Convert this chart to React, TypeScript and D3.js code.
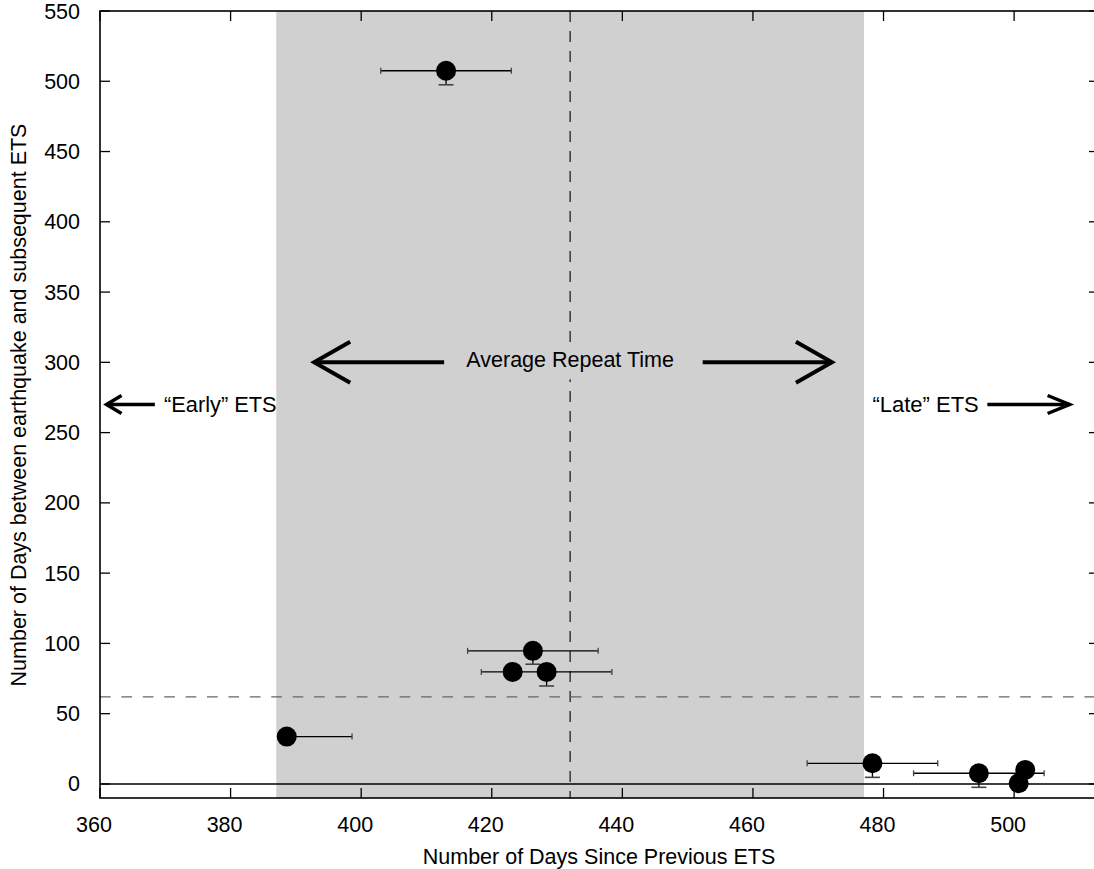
import React from "react";
import * as d3 from "d3";

// days since previous ETS (x) and days between earthquake and next ETS (y)
const daysSince = [413, 426.3, 423.2, 428.4, 388.6, 478.3, 494.6, 501.7, 500.7];
const daysBetween = [507.5, 94.7, 79.7, 79.7, 33.7, 14.7, 7.6, 10, 0.5];
// error bars (0 = not drawn)
const xErrLow = [10, 10, 0, 10, 0, 10, 10, 0, 0];
const xErrHigh = [10, 10, 0, 10, 10, 10, 10, 0, 0];
const yErrLow = [10, 9.5, 0, 10, 0, 10, 10, 0, 0];

const xTicks = [360, 380, 400, 420, 440, 460, 480, 500];
const yTicks = [0, 50, 100, 150, 200, 250, 300, 350, 400, 450, 500, 550];

const repeatLow = 387;
const repeatHigh = 477;
const repeatMean = 432;
const meanDelay = 62;

const W = 1094;
const H = 869;
const left = 100, right = 1099, top = 11, bottom = 798;
const FONT = "'Liberation Sans', Arial, Helvetica, sans-serif";

export default function App() {
  const x = d3.scaleLinear().domain([360, 513]).range([left, right]);
  const y = d3.scaleLinear().domain([-10, 550]).range([bottom, top]);

  const arrow = (x1: number, x2: number, yy: number, hx: number, hy: number, sw: number, key: string) => {
    // x2 is the tip
    const dir = x2 > x1 ? -1 : 1;
    const tx = x(x2), ty = y(yy);
    return (
      <g key={key} stroke="#000" strokeWidth={sw} fill="none" strokeLinecap="butt">
        <line x1={x(x1)} y1={ty} x2={tx} y2={ty} />
        <polyline points={`${tx + dir * hx},${ty - hy} ${tx},${ty} ${tx + dir * hx},${ty + hy}`} />
      </g>
    );
  };

  return (
    <svg width={W} height={H} style={{ position: "absolute", left: 0, top: 0, background: "#fff" }} fontFamily={FONT}>
      {/* one-sigma band of repeat time */}
      <rect x={x(repeatLow)} y={top} width={x(repeatHigh) - x(repeatLow)} height={bottom - top} fill="#d0d0d0" />

      {/* zero line */}
      <line x1={left} x2={right} y1={y(0)} y2={y(0)} stroke="#000" strokeWidth={1.6} />

      {/* mean repeat time */}
      <line x1={x(repeatMean)} x2={x(repeatMean)} y1={top} y2={bottom} stroke="#000" strokeWidth={1.1} strokeDasharray="11,9" />
      {/* mean delay */}
      <line x1={left} x2={right} y1={y(meanDelay)} y2={y(meanDelay)} stroke="#666" strokeWidth={1.3} strokeDasharray="10.7,10.7" />

      {/* error bars */}
      {daysSince.map((d, i) => (
        <g key={`err-${i}`} stroke="#000" strokeWidth={1.3}>
          {(xErrLow[i] > 0 || xErrHigh[i] > 0) && (
            <>
              <line x1={x(d - xErrLow[i])} x2={x(d + xErrHigh[i])} y1={y(daysBetween[i])} y2={y(daysBetween[i])} />
              {xErrLow[i] > 0 && <line x1={x(d - xErrLow[i])} x2={x(d - xErrLow[i])} y1={y(daysBetween[i]) - 3} y2={y(daysBetween[i]) + 3} stroke="#444" />}
              {xErrHigh[i] > 0 && <line x1={x(d + xErrHigh[i])} x2={x(d + xErrHigh[i])} y1={y(daysBetween[i]) - 3} y2={y(daysBetween[i]) + 3} stroke="#444" />}
            </>
          )}
          {yErrLow[i] > 0 && (
            <>
              <line x1={x(d)} x2={x(d)} y1={y(daysBetween[i])} y2={y(daysBetween[i] - yErrLow[i])} />
              <line x1={x(d) - 7.5} x2={x(d) + 7.5} y1={y(daysBetween[i] - yErrLow[i])} y2={y(daysBetween[i] - yErrLow[i])} stroke="#444" strokeWidth={1.6} />
            </>
          )}
        </g>
      ))}

      {/* points */}
      {daysSince.map((d, i) => (
        <circle key={`pt-${i}`} cx={x(d)} cy={y(daysBetween[i])} r={10} fill="#000" />
      ))}

      {/* annotations */}
      <rect x={x(414)} y={y(300) - 16} width={x(450.5) - x(414)} height={33} fill="#d0d0d0" />
      <text x={x(repeatMean)} y={y(300) + 5} textAnchor="middle" fontSize={21.5}>Average Repeat Time</text>
      {arrow(412.7, 392.8, 300, 36, 20.5, 4, "a1")}
      {arrow(452.3, 472.1, 300, 36, 20.5, 4, "a2")}
      {arrow(368.4, 361, 270, 15, 9, 3.5, "a3")}
      <text x={x(369.8)} y={y(270) + 7} fontSize={21.8}>“Early” ETS</text>
      <text x={x(478.3)} y={y(270) + 7} fontSize={22}>“Late” ETS</text>
      {arrow(495.9, 508.5, 270, 22, 9, 3.5, "a4")}

      {/* frame and inward ticks */}
      <rect x={left} y={top} width={right - left} height={bottom - top} fill="none" stroke="#000" strokeWidth={1.6} />
      {xTicks.map((t) => (
        <g key={`xt-${t}`}>
          <line x1={x(t)} x2={x(t)} y1={bottom} y2={bottom - 10} stroke="#000" strokeWidth={1.3} />
          <line x1={x(t)} x2={x(t)} y1={top} y2={top + 10} stroke="#000" strokeWidth={1.3} />
          <text x={x(t) - 6} y={bottom + 34} textAnchor="middle" fontSize={21.5}>{t}</text>
        </g>
      ))}
      {yTicks.map((t) => (
        <g key={`yt-${t}`}>
          <line x1={left} x2={left + 10} y1={y(t)} y2={y(t)} stroke="#000" strokeWidth={1.3} />
          <line x1={right} x2={right - 10} y1={y(t)} y2={y(t)} stroke="#000" strokeWidth={1.3} />
          <text x={left - 20} y={y(t) + 7.5} textAnchor="end" fontSize={21.5}>{t}</text>
        </g>
      ))}

      {/* axis titles */}
      <text x={599} y={864} textAnchor="middle" fontSize={21.5}>Number of Days Since Previous ETS</text>
      <text transform={`translate(26,${405}) rotate(-90)`} textAnchor="middle" fontSize={21.5}>
        Number of Days between earthquake and subsequent ETS
      </text>
    </svg>
  );
}
